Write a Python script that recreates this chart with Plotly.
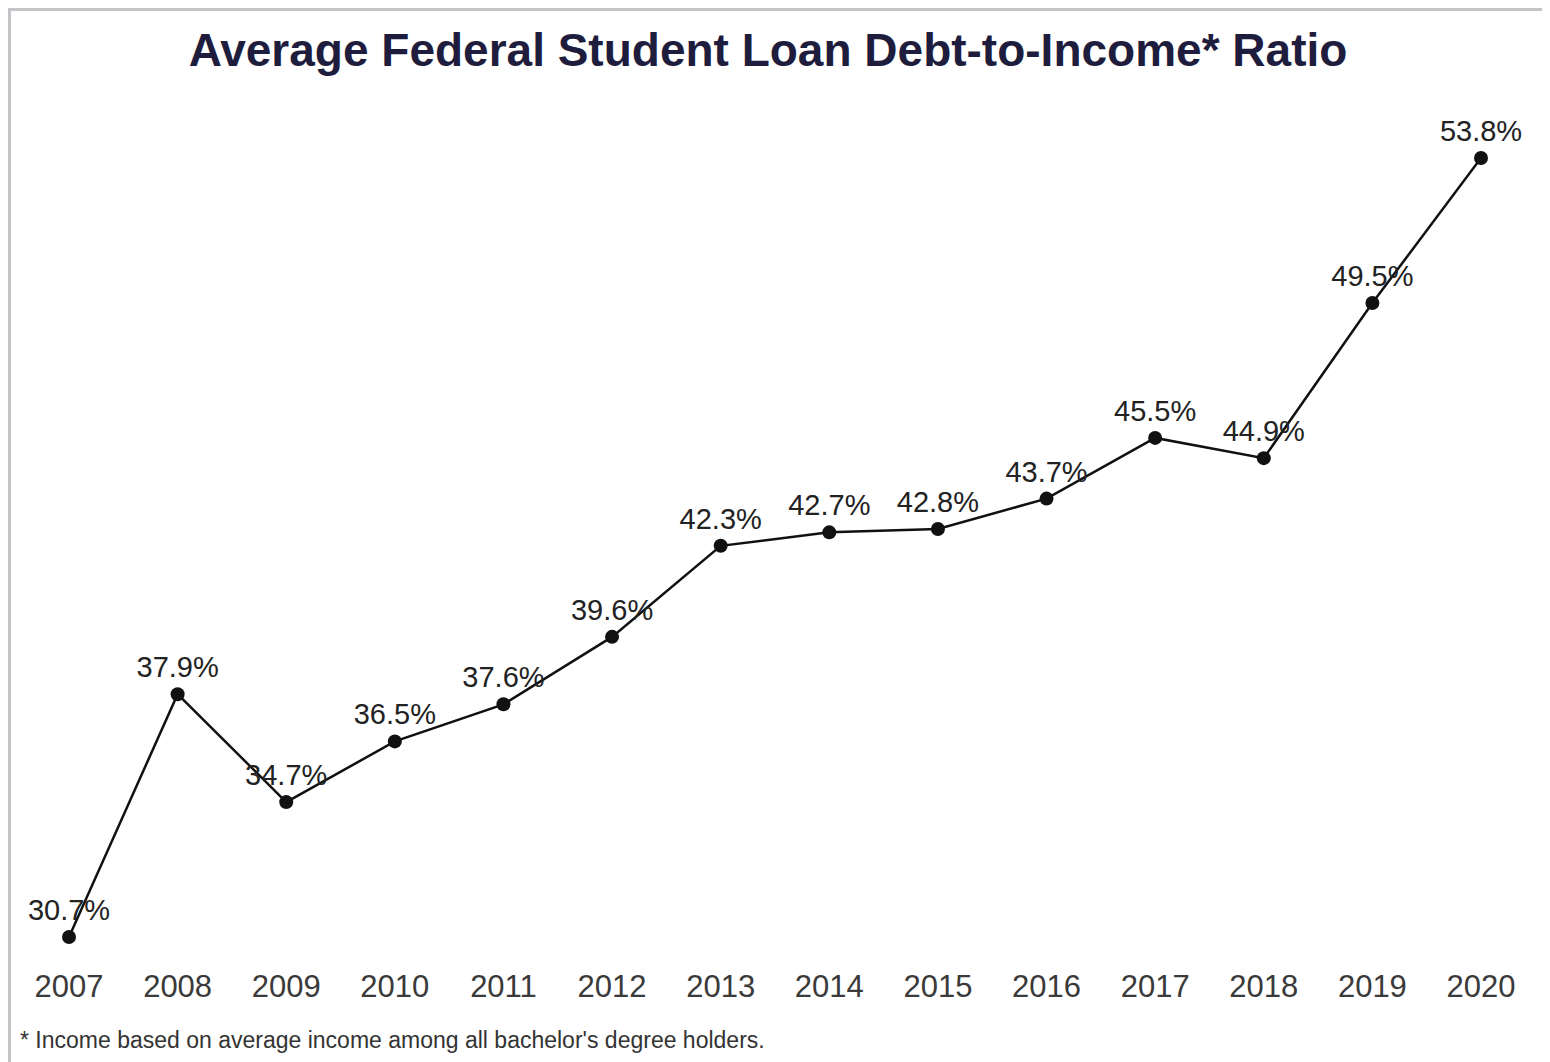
import plotly.graph_objects as go

years = [2007, 2008, 2009, 2010, 2011, 2012, 2013, 2014, 2015, 2016, 2017, 2018, 2019, 2020]
ratio = [30.7, 37.9, 34.7, 36.5, 37.6, 39.6, 42.3, 42.7, 42.8, 43.7, 45.5, 44.9, 49.5, 53.8]
labels = [f"{v:.1f}%" for v in ratio]
title_text = "Average Federal Student Loan Debt-to-Income* Ratio"
footnote = "* Income based on average income among all bachelor's degree holders."

W, H = 1550, 1062
ml, mr, mt, mb = 61, 77, 92, 105

fig = go.Figure()
fig.add_trace(go.Scatter(
    x=years, y=ratio, mode="lines+markers+text",
    text=labels, textposition="top center",
    textfont=dict(family="Liberation Sans, Arial", size=29, color="#222222"),
    line=dict(color="#111111", width=2.5),
    marker=dict(color="#111111", size=14),
    cliponaxis=False, hoverinfo="skip", showlegend=False,
))

pw = W - ml - mr
ph = H - mt - mb

fig.update_layout(
    width=W, height=H,
    margin=dict(l=ml, r=mr, t=mt, b=mb),
    paper_bgcolor="white", plot_bgcolor="white",
    title=dict(text=f"<b>{title_text}</b>", x=760 / W, xanchor="center", y=1 - 42 / H, yanchor="middle",
               font=dict(family="Liberation Sans, Arial", size=46, color="#1f1d3d")),
    xaxis=dict(range=[2007, 2020], tickmode="array", tickvals=years, ticktext=[str(y) for y in years],
               showgrid=False, zeroline=False, showline=False, ticks="",
               tickfont=dict(family="Liberation Sans, Arial", size=31, color="#3a3a3a")),
    yaxis=dict(range=[29.87, 55.52], visible=False, showgrid=False, zeroline=False),
    annotations=[dict(text=footnote, xref="paper", yref="paper",
                      x=(10 - ml) / pw, y=(H - mb - 1032) / ph, xanchor="left", yanchor="middle",
                      showarrow=False, font=dict(family="Liberation Sans, Arial", size=23, color="#333333"))],
    shapes=[
        dict(type="rect", xref="paper", yref="paper",
             x0=(1 - ml) / pw, x1=(W + 10 - ml) / pw, y0=(H - mb - (H + 10)) / ph, y1=(H - mb - 1) / ph,
             line=dict(color="#c4c4c8", width=4), fillcolor="rgba(0,0,0,0)", layer="below"),
    ],
)

fig.write_html("out.html")
